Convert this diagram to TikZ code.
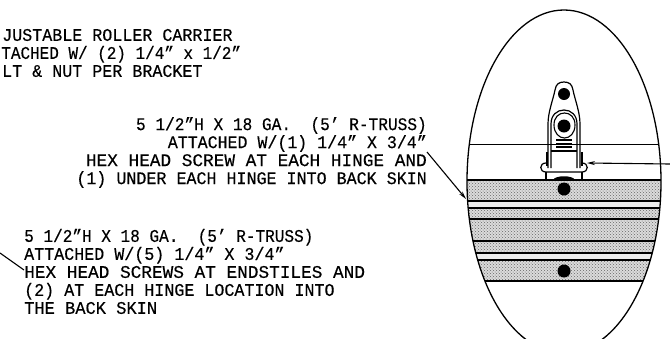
\documentclass[tikz,border=0pt]{standalone}
\usepackage{graphicx}
\usepackage{fontspec}
\setmainfont[FakeBold=0.3]{Liberation Mono}
\usetikzlibrary{arrows.meta,patterns}

\newcommand{\lw}[2]{\scalebox{#1}[1]{#2}}

\tikzset{
	note/.style={inner sep=0pt, font=\fontsize{17.75}{18}\selectfont},
	hole/.style={circle, fill=black, inner sep=0pt, minimum size=#1},
	band/.style={preaction={fill=black!14}, pattern=crosshatch dots, pattern color=black!60, draw=none},
	paleband/.style={fill=black!7, draw=none},
	bandline/.style={line width=1.2pt},
	leader/.style={line width=1.1pt, -{Stealth[length=8pt,width=4pt]}}
}

\begin{document}
\begin{tikzpicture}[x=1pt,y=-1pt]
	\useasboundingbox (0,0) rectangle (670,338);

	% shaded bands, kept inside the oval
	\begin{scope}
		\clip (564,181.6) ellipse [x radius=97, y radius=171.6];
		\foreach \ya/\yb in {180/201, 208/241, 241/253, 260/281}
			\path[band] (460,\ya) rectangle (670,\yb);
		\foreach \ya/\yb in {201/208, 253/260}
			\path[paleband] (460,\ya) rectangle (670,\yb);
		\foreach \yy in {180,201,208,219,241,253,260,281}
			\draw[bandline] (460,\yy) -- (670,\yy);
		\draw[line width=0.9pt] (460,144) -- (670,144);
	\end{scope}
	\draw[line width=1.3pt] (564,181.6) ellipse [x radius=97, y radius=171.6];

	% hinge
	\draw[line width=1.2pt] (548,168) -- (548,124) .. controls (548,112) and (553,100) .. (555,90)
		.. controls (556,84) and (559,82) .. (564,82) .. controls (569,82) and (572,84) .. (573,90)
		.. controls (575,100) and (580,112) .. (580,124) -- (580,168);
	\draw[line width=1.2pt] (551,168) -- (551,124) .. controls (551,115) and (557,110) .. (564,110)
		.. controls (571,110) and (577,115) .. (577,124) -- (577,168);
	\draw[line width=1.1pt] (554,125) .. controls (554,117) and (559,113) .. (564.5,113)
		.. controls (570,113) and (575,117) .. (575,125) .. controls (575,133) and (570,138) .. (564.5,138)
		.. controls (559,138) and (554,133) .. (554,125) -- cycle;
	\foreach \yy in {140,143.5,147}
		\draw[line width=1.3pt] (556,\yy) -- (572,\yy);
	\draw[line width=1.2pt] (551,151) -- (577,151);
	\draw[line width=2pt] (546.5,152) -- (546.5,166);
	\draw[line width=2pt] (581.5,152) -- (581.5,166);
	\draw[line width=1.2pt] (546,163) .. controls (539,163) and (539,172) .. (546,172) -- (582,172)
		.. controls (589,172) and (589,163) .. (582,163);
	\draw[line width=1.2pt] (546,172) -- (546,180);
	\draw[line width=1.2pt] (582,172) -- (582,180);
	\fill (553,180) .. controls (555,175) and (573,175) .. (575,180) -- cycle;

	\node[hole=12pt] (hole1) at (564,94) {};
	\node[hole=13pt] (hole2) at (564,126) {};
	\node[hole=13pt] (hole3) at (564,189) {};
	\node[hole=13pt] (hole4) at (564,271) {};

	% notes
	\node[note, align=left, anchor=west] (carrier) at (-18,53) {\lw{.94}{\hphantom{AD}JUSTABLE ROLLER CARRIER}\\
		\lw{.90}{\hphantom{AT}TACHED W/ (2) 1/4" x 1/2"}\\
		\lw{.94}{\hphantom{BO}LT \& NUT PER BRACKET}};
	\node[note, align=right, anchor=east] (truss1) at (427,152.5) {\lw{.91}{5 1/2"H X 18 GA.\ \ (5' R-TRUSS)}\\
		\lw{.935}{ATTACHED W/(1) 1/4" X 3/4"}\\
		HEX HEAD SCREW AT EACH HINGE AND\\
		\lw{.94}{(1) UNDER EACH HINGE INTO BACK SKIN}};
	\node[note, align=left, anchor=west] (truss2) at (24,271.5) {\lw{.905}{5 1/2"H X 18 GA.\ \ (5' R-TRUSS)}\\
		\lw{.94}{ATTACHED W/(5) 1/4" X 3/4"}\\
		HEX HEAD SCREWS AT ENDSTILES AND\\
		\lw{.94}{(2) AT EACH HINGE LOCATION INTO}\\
		\lw{.96}{THE BACK SKIN}};

	% leaders
	\coordinate (tip1) at (466,199);
	\coordinate (tail1) at (427,152);
	\coordinate (tail2) at (0,253);
	\coordinate (tail3) at (670,164);
	\coordinate (tip3) at (587,163);
	\draw[leader] (tail1) -- (tip1);
	\draw[line width=1.1pt] (tail2) -- (truss2.west |- 0,270);
	\draw[leader] (tail3) -- (tip3);
\end{tikzpicture}
\end{document}
